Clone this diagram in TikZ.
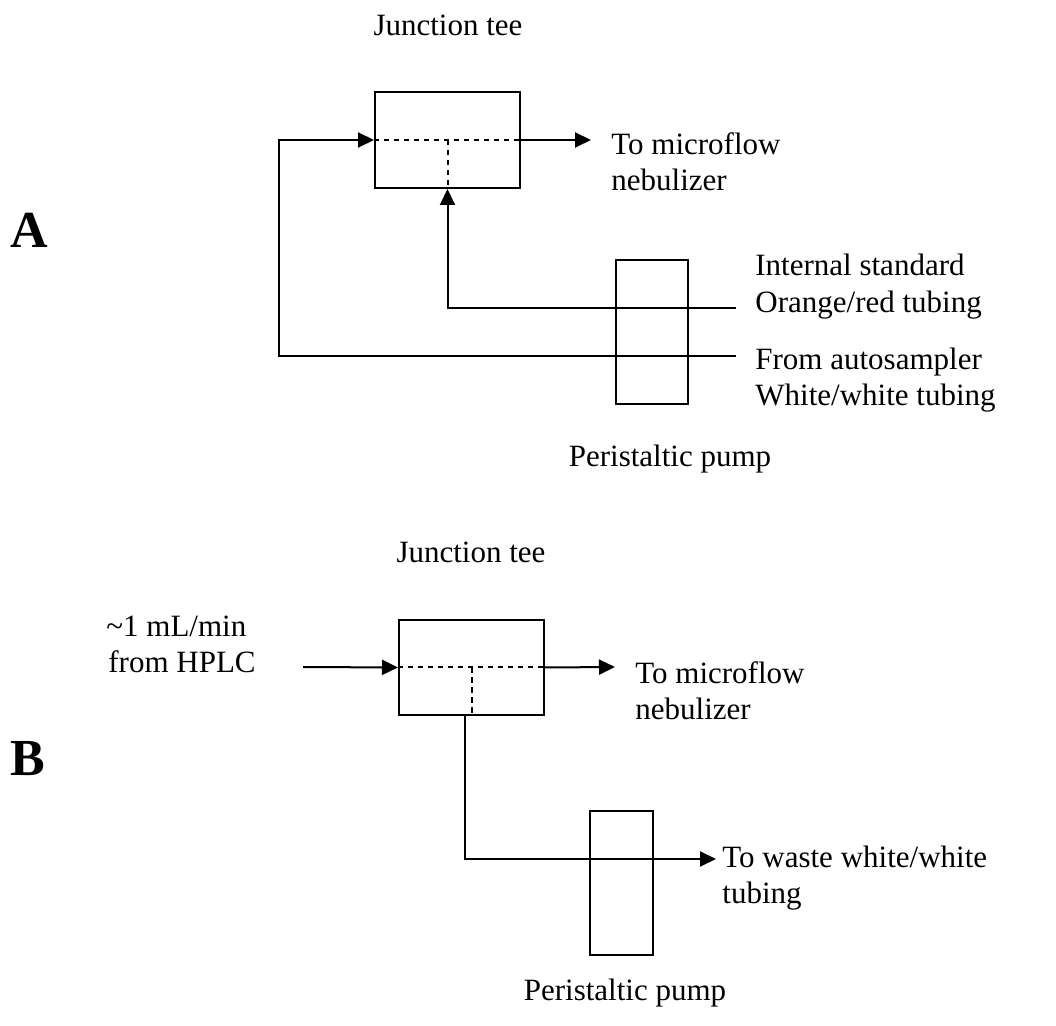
\documentclass[tikz,border=0pt]{standalone}
\usepackage{fontspec}
\setmainfont{Liberation Serif}
\usetikzlibrary{arrows.meta}
\begin{document}
\begin{tikzpicture}[x=0.5pt,y=-0.5pt,
  line/.style={line width=1pt},
  flow/.style={line width=1pt,-{Triangle[length=8pt,width=7.5pt]}},
  inner/.style={line width=1pt,dash pattern=on 2.6pt off 2.4pt},
  tee/.style={draw,line width=1pt,minimum width=72.5pt,minimum height=48pt,inner sep=0pt},
  pump/.style={draw,line width=0.8pt,minimum width=36pt,minimum height=72pt,inner sep=0pt},
  lbl/.style={font=\fontsize{15.5}{18}\selectfont,inner sep=0pt},
  big/.style={font=\fontsize{26}{30}\selectfont\bfseries,inner sep=0pt}]
\useasboundingbox (0,0) rectangle (1056,1026);

% ---------- Part A ----------
\node[big,anchor=base west] (labA) at (10,248) {A};
\node[tee] (teeA) at (447.5,140) {};
\node[pump] (pumpA) at (652,332) {};
\node[lbl,anchor=base] (jtA) at (448,36) {Junction tee};
\node[lbl,anchor=base west] (outA1) at (611,155) {To microflow};
\node[lbl,anchor=base west] (outA2) at (611,191) {nebulizer};
\node[lbl,anchor=base west] (isA1) at (755,276) {Internal standard};
\node[lbl,anchor=base west] (isA2) at (755,313) {Orange/red tubing};
\node[lbl,anchor=base west] (asA1) at (755,370) {From autosampler};
\node[lbl,anchor=base west] (asA2) at (755,406) {White/white tubing};
\node[lbl,anchor=base] (ppA) at (670,467) {Peristaltic pump};

\coordinate (outAend) at (591,140);
\coordinate (isEnd) at (736,308);
\coordinate (asEnd) at (736,356);
\coordinate (asCorner) at (279,356);

\draw[inner] (teeA.west) -- (teeA.east);
\draw[inner] (teeA.center) -- (teeA.south);
\draw[flow] (teeA.east) -- (outAend);
\draw[flow] (isEnd) -| (teeA.south);
\draw[flow] (asEnd) -- (asCorner) |- (teeA.west);

% ---------- Part B ----------
\node[big,anchor=base west] (labB) at (10,776) {B};
\node[tee,minimum height=47.5pt] (teeB) at (471.5,667.5) {};
\node[pump,minimum width=31.5pt] (pumpB) at (621.5,883) {};
\node[lbl,anchor=base] (jtB) at (471,563) {Junction tee};
\node[lbl,anchor=base west] (hplc1) at (106,637) {\textasciitilde 1 mL/min};
\node[lbl,anchor=base west] (hplc2) at (108,673) {from HPLC};
\node[lbl,anchor=base west] (outB1) at (635,683) {To microflow};
\node[lbl,anchor=base west] (outB2) at (635,719) {nebulizer};
\node[lbl,anchor=base west] (wB1) at (722,867) {To waste white/white};
\node[lbl,anchor=base west] (wB2) at (722,903) {tubing};
\node[lbl,anchor=base] (ppB) at (625,1000) {Peristaltic pump};

\coordinate (hplcStart) at (303,667);
\coordinate (outBend) at (615,667);
\coordinate (wasteEnd) at (716,859);

\draw[inner] (teeB.west) -- (teeB.east);
\draw[inner] (teeB.center) -- (teeB.south);
\draw[flow] (hplcStart) -- (teeB.west);
\draw[flow] (teeB.east) -- (outBend);
\draw[flow] ([xshift=-3.5pt]teeB.south) |- (wasteEnd);
\end{tikzpicture}
\end{document}
